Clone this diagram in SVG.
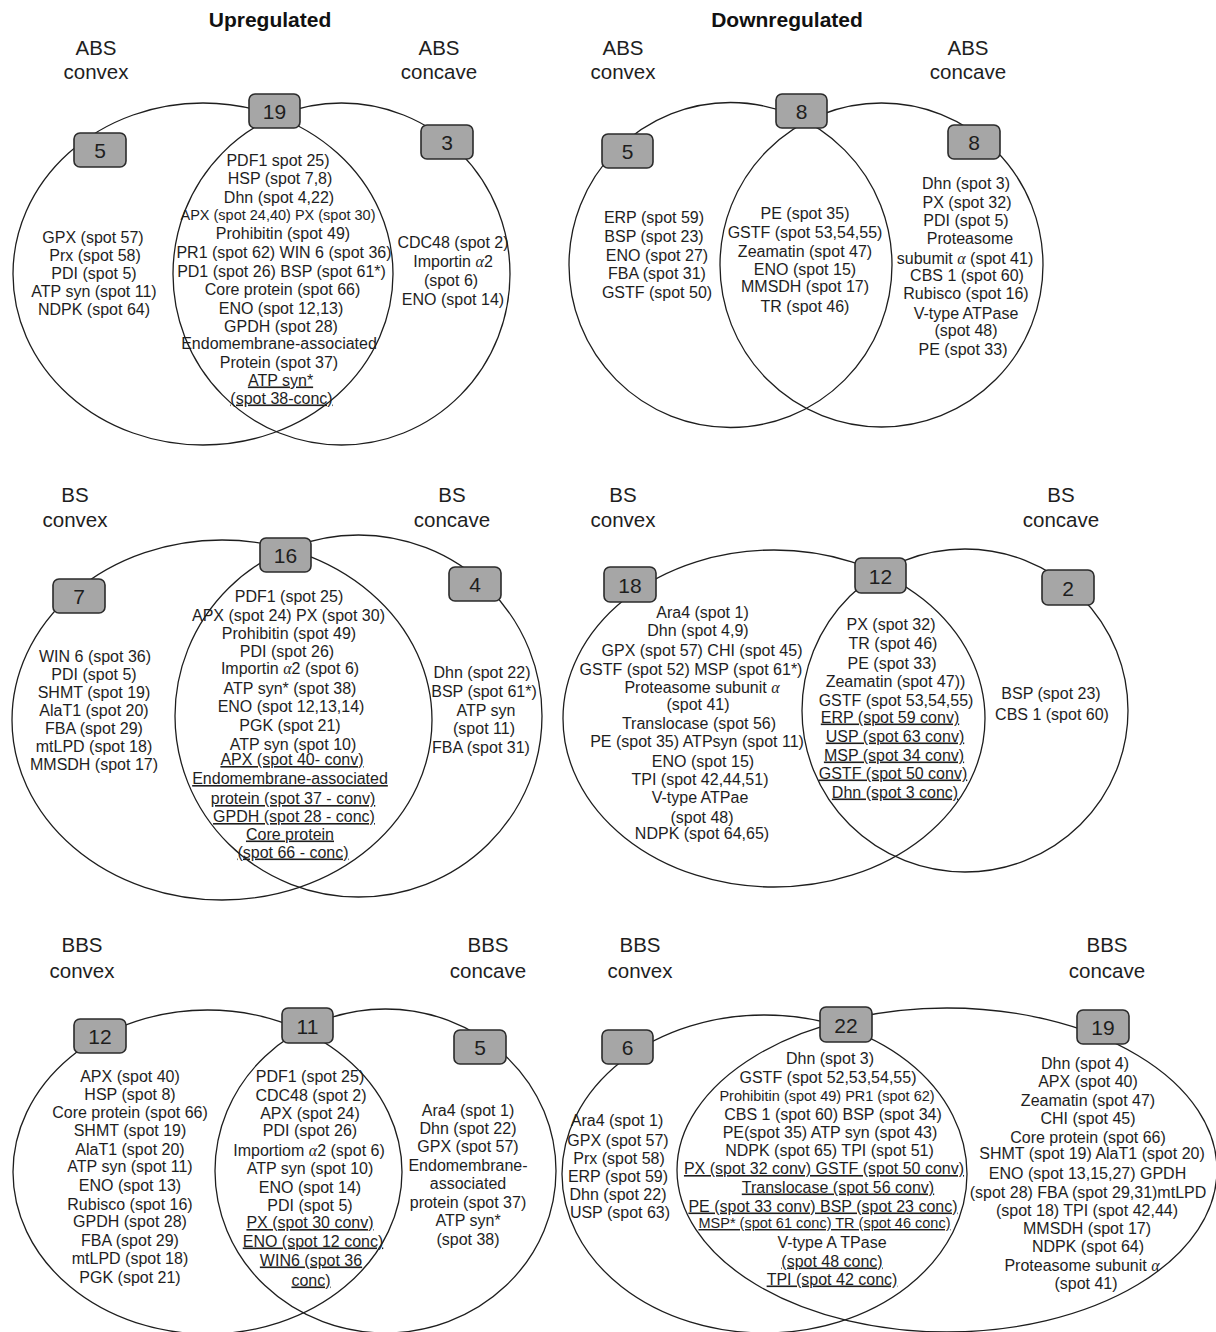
<svg xmlns="http://www.w3.org/2000/svg" width="1216" height="1332" viewBox="0 0 1216 1332">
<style>
.bg{fill:#ffffff}
.c{fill:none;stroke:#1e1e1e;stroke-width:1.3}
.b{fill:#a6a6a6;stroke:#2b2b2b;stroke-width:1.6}
.n{font-family:"Liberation Sans",Arial,sans-serif;font-size:21px;fill:#1e1e1e;text-anchor:middle}
.t{font-family:"Liberation Sans",Arial,sans-serif;font-size:16px;fill:#1e1e1e;text-anchor:middle}
.s{font-size:14.5px}
.h{font-family:"Liberation Sans",Arial,sans-serif;font-size:20.5px;fill:#1e1e1e;text-anchor:middle}
.ttl{font-family:"Liberation Sans",Arial,sans-serif;font-size:21px;font-weight:bold;fill:#111;text-anchor:middle}
.u{text-decoration:underline}
.a{font-family:"Liberation Serif","Times New Roman",serif;font-style:italic}
</style>
<rect class="bg" x="0" y="0" width="1216" height="1332"/>

<text class="ttl" x="270" y="27">Upregulated</text>
<text class="ttl" x="787" y="27">Downregulated</text>

<!-- Panel 1: Upregulated ABS -->
<g id="up-abs">
  <g id="up-abs-convex">
    <ellipse class="c" cx="203" cy="274" rx="190" ry="171"/>
    <text class="h" x="96" y="55">ABS</text>
    <text class="h" x="96" y="79">convex</text>
  </g>
  <g id="up-abs-concave">
    <ellipse class="c" cx="341.5" cy="274" rx="168.5" ry="171"/>
    <text class="h" x="439" y="55">ABS</text>
    <text class="h" x="439" y="79">concave</text>
  </g>
  <g id="up-abs-n-conv"><rect class="b" x="74" y="133" width="52" height="34" rx="6"/><text class="n" x="100" y="158">5</text></g>
  <g id="up-abs-n-both"><rect class="b" x="249" y="94" width="51" height="34" rx="6"/><text class="n" x="274.5" y="119">19</text></g>
  <g id="up-abs-n-conc"><rect class="b" x="421" y="125" width="52" height="34" rx="6"/><text class="n" x="447" y="150">3</text></g>
  <g id="up-abs-list-conv">
    <text class="t" x="93" y="242.5">GPX (spot 57)</text>
    <text class="t" x="95" y="260.5">Prx (spot 58)</text>
    <text class="t" x="94" y="278.5">PDI (spot 5)</text>
    <text class="t" x="94" y="296.5">ATP syn (spot 11)</text>
    <text class="t" x="94" y="314.5">NDPK (spot 64)</text>
  </g>
  <g id="up-abs-list-both">
    <text class="t" x="278" y="165.5">PDF1 spot 25)</text>
    <text class="t" x="280" y="184">HSP (spot 7,8)</text>
    <text class="t" x="279" y="202.5">Dhn (spot 4,22)</text>
    <text class="t s" x="278" y="220">APX (spot 24,40) PX (spot 30)</text>
    <text class="t" x="283" y="239">Prohibitin (spot 49)</text>
    <text class="t" x="284" y="258">PR1 (spot 62) WIN 6 (spot 36)</text>
    <text class="t" x="281.5" y="276.5">PD1 (spot 26) BSP (spot 61*)</text>
    <text class="t" x="282.5" y="295">Core protein (spot 66)</text>
    <text class="t" x="281" y="313.5">ENO (spot 12,13)</text>
    <text class="t" x="281" y="332">GPDH (spot 28)</text>
    <text class="t" x="279" y="349">Endomembrane-associated</text>
    <text class="t" x="279" y="367.5">Protein (spot 37)</text>
    <text class="t u" x="280.5" y="385.5">ATP syn*</text>
    <text class="t u" x="281.5" y="403.5">(spot 38-conc)</text>
  </g>
  <g id="up-abs-list-conc">
    <text class="t" x="453" y="248">CDC48 (spot 2)</text>
    <text class="t" x="453" y="267">Importin <tspan class="a">α</tspan>2</text>
    <text class="t" x="451" y="286">(spot 6)</text>
    <text class="t" x="453" y="305">ENO (spot 14)</text>
  </g>
</g>

<!-- Panel 2: Downregulated ABS -->
<g id="down-abs">
  <g id="down-abs-convex">
    <ellipse class="c" cx="730.5" cy="265" rx="161.5" ry="162.5"/>
    <text class="h" x="623" y="55">ABS</text>
    <text class="h" x="623" y="79">convex</text>
  </g>
  <g id="down-abs-concave">
    <ellipse class="c" cx="881.5" cy="265" rx="161.5" ry="162"/>
    <text class="h" x="968" y="55">ABS</text>
    <text class="h" x="968" y="79">concave</text>
  </g>
  <g id="down-abs-n-conv"><rect class="b" x="602" y="134" width="51" height="34" rx="6"/><text class="n" x="627.5" y="159">5</text></g>
  <g id="down-abs-n-both"><rect class="b" x="776" y="94" width="51" height="34" rx="6"/><text class="n" x="801.5" y="119">8</text></g>
  <g id="down-abs-n-conc"><rect class="b" x="948" y="125" width="52" height="34" rx="6"/><text class="n" x="974" y="150">8</text></g>
  <g id="down-abs-list-conv">
    <text class="t" x="654" y="223">ERP (spot 59)</text>
    <text class="t" x="654" y="242">BSP (spot 23)</text>
    <text class="t" x="657" y="261">ENO (spot 27)</text>
    <text class="t" x="657" y="279">FBA (spot 31)</text>
    <text class="t" x="657" y="298">GSTF (spot 50)</text>
  </g>
  <g id="down-abs-list-both">
    <text class="t" x="805" y="219">PE (spot 35)</text>
    <text class="t" x="805" y="238">GSTF (spot 53,54,55)</text>
    <text class="t" x="805" y="257">Zeamatin (spot 47)</text>
    <text class="t" x="805" y="275">ENO (spot 15)</text>
    <text class="t" x="805" y="292">MMSDH (spot 17)</text>
    <text class="t" x="805" y="312">TR (spot 46)</text>
  </g>
  <g id="down-abs-list-conc">
    <text class="t" x="966" y="189">Dhn (spot 3)</text>
    <text class="t" x="967" y="207.5">PX (spot 32)</text>
    <text class="t" x="966" y="225.5">PDI (spot 5)</text>
    <text class="t" x="970" y="244">Proteasome</text>
    <text class="t" x="965" y="263.5">subumit <tspan class="a">α</tspan> (spot 41)</text>
    <text class="t" x="967" y="281">CBS 1 (spot 60)</text>
    <text class="t" x="966" y="299">Rubisco (spot 16)</text>
    <text class="t" x="966" y="318.5">V-type ATPase</text>
    <text class="t" x="966" y="336">(spot 48)</text>
    <text class="t" x="963" y="354.5">PE (spot 33)</text>
  </g>
</g>

<!-- Panel 3: Upregulated BS -->
<g id="up-bs">
  <g id="up-bs-convex">
    <ellipse class="c" cx="222" cy="720" rx="210" ry="180"/>
    <text class="h" x="75" y="502">BS</text>
    <text class="h" x="75" y="527">convex</text>
  </g>
  <g id="up-bs-concave">
    <ellipse class="c" cx="358.5" cy="716" rx="183.5" ry="181"/>
    <text class="h" x="452" y="502">BS</text>
    <text class="h" x="452" y="527">concave</text>
  </g>
  <g id="up-bs-n-conv"><rect class="b" x="53" y="579" width="52" height="34" rx="6"/><text class="n" x="79" y="604">7</text></g>
  <g id="up-bs-n-both"><rect class="b" x="260" y="538" width="51" height="34" rx="6"/><text class="n" x="285.5" y="563">16</text></g>
  <g id="up-bs-n-conc"><rect class="b" x="449" y="567" width="52" height="34" rx="6"/><text class="n" x="475" y="592">4</text></g>
  <g id="up-bs-list-conv">
    <text class="t" x="95" y="661.5">WIN 6 (spot 36)</text>
    <text class="t" x="94" y="679.5">PDI (spot 5)</text>
    <text class="t" x="94" y="697.5">SHMT (spot 19)</text>
    <text class="t" x="94" y="716">AlaT1 (spot 20)</text>
    <text class="t" x="94" y="733.5">FBA (spot 29)</text>
    <text class="t" x="94" y="752">mtLPD (spot 18)</text>
    <text class="t" x="94" y="770">MMSDH (spot 17)</text>
  </g>
  <g id="up-bs-list-both">
    <text class="t" x="289" y="601.5">PDF1 (spot 25)</text>
    <text class="t" x="288.5" y="621">APX (spot 24) PX (spot 30)</text>
    <text class="t" x="289" y="638.5">Prohibitin (spot 49)</text>
    <text class="t" x="287" y="657">PDI (spot 26)</text>
    <text class="t" x="290" y="673.5">Importin <tspan class="a">α</tspan>2 (spot 6)</text>
    <text class="t" x="290" y="693.5">ATP syn* (spot 38)</text>
    <text class="t" x="291" y="711.5">ENO (spot 12,13,14)</text>
    <text class="t" x="290" y="730.5">PGK (spot 21)</text>
    <text class="t" x="293" y="749.5">ATP syn (spot 10)</text>
    <text class="t u" x="292" y="765">APX (spot 40- conv)</text>
    <text class="t u" x="290" y="784">Endomembrane-associated</text>
    <text class="t u" x="293" y="804">protein (spot 37 - conv)</text>
    <text class="t u" x="294" y="822">GPDH (spot 28 - conc)</text>
    <text class="t u" x="290" y="839.5">Core protein</text>
    <text class="t u" x="293" y="857.5">(spot 66 - conc)</text>
  </g>
  <g id="up-bs-list-conc">
    <text class="t" x="482" y="677.5">Dhn (spot 22)</text>
    <text class="t" x="484" y="696.5">BSP (spot 61*)</text>
    <text class="t" x="486" y="715.5">ATP syn</text>
    <text class="t" x="484" y="733.5">(spot 11)</text>
    <text class="t" x="481" y="752.5">FBA (spot 31)</text>
  </g>
</g>

<!-- Panel 4: Downregulated BS -->
<g id="down-bs">
  <g id="down-bs-convex">
    <ellipse class="c" cx="774" cy="718.5" rx="211" ry="168.5"/>
    <text class="h" x="623" y="502">BS</text>
    <text class="h" x="623" y="527">convex</text>
  </g>
  <g id="down-bs-concave">
    <ellipse class="c" cx="965" cy="710.5" rx="163" ry="161.5"/>
    <text class="h" x="1061" y="502">BS</text>
    <text class="h" x="1061" y="527">concave</text>
  </g>
  <g id="down-bs-n-conv"><rect class="b" x="604" y="567" width="52" height="35" rx="6"/><text class="n" x="630" y="592.5">18</text></g>
  <g id="down-bs-n-both"><rect class="b" x="855" y="558" width="51" height="35" rx="6"/><text class="n" x="880.5" y="583.5">12</text></g>
  <g id="down-bs-n-conc"><rect class="b" x="1042" y="570" width="52" height="35" rx="6"/><text class="n" x="1068" y="595.5">2</text></g>
  <g id="down-bs-list-conv">
    <text class="t" x="702.5" y="617.5">Ara4 (spot 1)</text>
    <text class="t" x="698" y="635.5">Dhn (spot 4,9)</text>
    <text class="t" x="702" y="655.5">GPX (spot 57) CHI (spot 45)</text>
    <text class="t" x="691" y="674.5">GSTF (spot 52) MSP (spot 61*)</text>
    <text class="t" x="702" y="692.5">Proteasome subunit <tspan class="a">α</tspan></text>
    <text class="t" x="698" y="709.5">(spot 41)</text>
    <text class="t" x="699" y="728.5">Translocase (spot 56)</text>
    <text class="t" x="697" y="746.5">PE (spot 35) ATPsyn (spot 11)</text>
    <text class="t" x="703" y="766.5">ENO (spot 15)</text>
    <text class="t" x="700" y="784.5">TPI (spot 42,44,51)</text>
    <text class="t" x="700" y="802.5">V-type ATPae</text>
    <text class="t" x="702" y="822.5">(spot 48)</text>
    <text class="t" x="702" y="838.5">NDPK (spot 64,65)</text>
  </g>
  <g id="down-bs-list-both">
    <text class="t" x="891" y="629.5">PX (spot 32)</text>
    <text class="t" x="893" y="648.5">TR (spot 46)</text>
    <text class="t" x="892" y="668.5">PE (spot 33)</text>
    <text class="t" x="895.5" y="686.5">Zeamatin (spot 47))</text>
    <text class="t" x="896" y="705.5">GSTF (spot 53,54,55)</text>
    <text class="t u" x="890" y="722.5">ERP (spot 59 conv)</text>
    <text class="t u" x="895" y="741.5">USP (spot 63 conv)</text>
    <text class="t u" x="894" y="760.5">MSP (spot 34 conv)</text>
    <text class="t u" x="893" y="778.5">GSTF (spot 50 conv)</text>
    <text class="t u" x="895" y="797.5">Dhn (spot 3 conc)</text>
  </g>
  <g id="down-bs-list-conc">
    <text class="t" x="1051" y="698.5">BSP (spot 23)</text>
    <text class="t" x="1052" y="719.5">CBS 1 (spot 60)</text>
  </g>
</g>

<!-- Panel 5: Upregulated BBS -->
<g id="up-bbs">
  <g id="up-bbs-convex">
    <ellipse class="c" cx="207.5" cy="1172" rx="194.5" ry="162"/>
    <text class="h" x="82" y="952">BBS</text>
    <text class="h" x="82" y="978">convex</text>
  </g>
  <g id="up-bbs-concave">
    <ellipse class="c" cx="385.5" cy="1171" rx="170.5" ry="162"/>
    <text class="h" x="488" y="952">BBS</text>
    <text class="h" x="488" y="978">concave</text>
  </g>
  <g id="up-bbs-n-conv"><rect class="b" x="74" y="1019" width="52" height="34" rx="6"/><text class="n" x="100" y="1044">12</text></g>
  <g id="up-bbs-n-both"><rect class="b" x="282" y="1008" width="51" height="35" rx="6"/><text class="n" x="307.5" y="1033.5">11</text></g>
  <g id="up-bbs-n-conc"><rect class="b" x="454" y="1030" width="52" height="34" rx="6"/><text class="n" x="480" y="1055">5</text></g>
  <g id="up-bbs-list-conv">
    <text class="t" x="130" y="1081.5">APX (spot 40)</text>
    <text class="t" x="130" y="1099.5">HSP (spot 8)</text>
    <text class="t" x="130" y="1117.5">Core protein (spot 66)</text>
    <text class="t" x="130" y="1135.5">SHMT (spot 19)</text>
    <text class="t" x="130" y="1154.5">AlaT1 (spot 20)</text>
    <text class="t" x="130" y="1171.5">ATP syn (spot 11)</text>
    <text class="t" x="130" y="1190.5">ENO (spot 13)</text>
    <text class="t" x="130" y="1209.5">Rubisco (spot 16)</text>
    <text class="t" x="130" y="1226.5">GPDH (spot 28)</text>
    <text class="t" x="130" y="1245.5">FBA (spot 29)</text>
    <text class="t" x="130" y="1263.5">mtLPD (spot 18)</text>
    <text class="t" x="130" y="1282.5">PGK (spot 21)</text>
  </g>
  <g id="up-bbs-list-both">
    <text class="t" x="310" y="1082">PDF1 (spot 25)</text>
    <text class="t" x="311" y="1100.5">CDC48 (spot 2)</text>
    <text class="t" x="310" y="1118.5">APX (spot 24)</text>
    <text class="t" x="310" y="1136">PDI (spot 26)</text>
    <text class="t" x="309" y="1156">Importiom <tspan class="a">α</tspan>2 (spot 6)</text>
    <text class="t" x="310" y="1173.5">ATP syn (spot 10)</text>
    <text class="t" x="310" y="1192.5">ENO (spot 14)</text>
    <text class="t" x="310" y="1210.5">PDI (spot 5)</text>
    <text class="t u" x="310" y="1228">PX (spot 30 conv)</text>
    <text class="t u" x="313" y="1246.5">ENO (spot 12 conc)</text>
    <text class="t u" x="311" y="1265.5">WIN6 (spot 36</text>
    <text class="t u" x="311" y="1285.5">conc)</text>
  </g>
  <g id="up-bbs-list-conc">
    <text class="t" x="468" y="1115.5">Ara4 (spot 1)</text>
    <text class="t" x="468" y="1133.5">Dhn (spot 22)</text>
    <text class="t" x="468" y="1151.5">GPX (spot 57)</text>
    <text class="t" x="468" y="1170.5">Endomembrane-</text>
    <text class="t" x="468" y="1188.5">associated</text>
    <text class="t" x="468" y="1207.5">protein (spot 37)</text>
    <text class="t" x="468" y="1226">ATP syn*</text>
    <text class="t" x="468" y="1245">(spot 38)</text>
  </g>
</g>

<!-- Panel 6: Downregulated BBS -->
<g id="down-bbs">
  <g id="down-bbs-convex">
    <ellipse class="c" cx="764.5" cy="1174" rx="202.5" ry="159"/>
    <text class="h" x="640" y="952">BBS</text>
    <text class="h" x="640" y="978">convex</text>
  </g>
  <g id="down-bbs-concave">
    <ellipse class="c" cx="947" cy="1170" rx="270" ry="162"/>
    <text class="h" x="1107" y="952">BBS</text>
    <text class="h" x="1107" y="978">concave</text>
  </g>
  <g id="down-bbs-n-conv"><rect class="b" x="602" y="1030" width="51" height="34" rx="6"/><text class="n" x="627.5" y="1055">6</text></g>
  <g id="down-bbs-n-both"><rect class="b" x="820" y="1007" width="52" height="35" rx="6"/><text class="n" x="846" y="1032.5">22</text></g>
  <g id="down-bbs-n-conc"><rect class="b" x="1077" y="1010" width="52" height="34" rx="6"/><text class="n" x="1103" y="1035">19</text></g>
  <g id="down-bbs-list-conv">
    <text class="t" x="617" y="1126">Ara4 (spot 1)</text>
    <text class="t" x="618" y="1145.5">GPX (spot 57)</text>
    <text class="t" x="619" y="1163.5">Prx (spot 58)</text>
    <text class="t" x="618" y="1181.5">ERP (spot 59)</text>
    <text class="t" x="618" y="1199.5">Dhn (spot 22)</text>
    <text class="t" x="620" y="1217.5">USP (spot 63)</text>
  </g>
  <g id="down-bbs-list-both">
    <text class="t" x="830" y="1063.5">Dhn (spot 3)</text>
    <text class="t" x="828" y="1083">GSTF (spot 52,53,54,55)</text>
    <text class="t s" x="827" y="1101">Prohibitin (spot 49) PR1 (spot 62)</text>
    <text class="t" x="833" y="1119.5">CBS 1 (spot 60) BSP (spot 34)</text>
    <text class="t" x="830" y="1137.5">PE(spot 35) ATP syn (spot 43)</text>
    <text class="t" x="829.5" y="1156">NDPK (spot 65) TPI (spot 51)</text>
    <text class="t u" x="824" y="1174">PX (spot 32 conv) GSTF (spot 50 conv)</text>
    <text class="t u" x="838" y="1192.5">Translocase (spot 56 conv)</text>
    <text class="t u" x="823" y="1211.5">PE (spot 33 conv) BSP (spot 23 conc)</text>
    <text class="t u s" x="824.5" y="1228">MSP* (spot 61 conc) TR (spot 46 conc)</text>
    <text class="t" x="832" y="1247.5">V-type A TPase</text>
    <text class="t u" x="832" y="1266.5">(spot 48 conc)</text>
    <text class="t u" x="832" y="1284.5">TPI (spot 42 conc)</text>
  </g>
  <g id="down-bbs-list-conc">
    <text class="t" x="1085" y="1068.5">Dhn (spot 4)</text>
    <text class="t" x="1088" y="1086.5">APX (spot 40)</text>
    <text class="t" x="1088" y="1105.5">Zeamatin (spot 47)</text>
    <text class="t" x="1088" y="1124">CHI (spot 45)</text>
    <text class="t" x="1088" y="1143">Core protein (spot 66)</text>
    <text class="t" x="1092" y="1159">SHMT (spot 19) AlaT1 (spot 20)</text>
    <text class="t" x="1087.5" y="1178.5">ENO (spot 13,15,27) GPDH</text>
    <text class="t" x="1088" y="1197.5">(spot 28) FBA (spot 29,31)mtLPD</text>
    <text class="t" x="1087" y="1216">(spot 18) TPI (spot 42,44)</text>
    <text class="t" x="1087" y="1233.5">MMSDH (spot 17)</text>
    <text class="t" x="1088" y="1251.5">NDPK (spot 64)</text>
    <text class="t" x="1082" y="1270.5">Proteasome subunit <tspan class="a">α</tspan></text>
    <text class="t" x="1086" y="1289">(spot 41)</text>
  </g>
</g>
</svg>
